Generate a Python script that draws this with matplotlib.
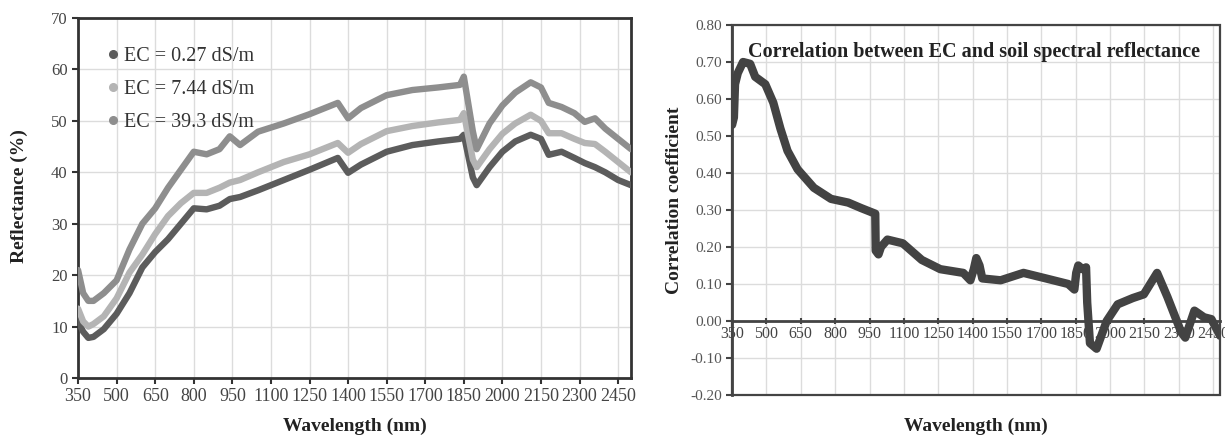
import numpy as np
import matplotlib.pyplot as plt
from matplotlib.lines import Line2D
from matplotlib.patches import Rectangle

plt.rcParams['font.family'] = ['Liberation Serif', 'DejaVu Serif']

# left panel: reflectance spectra for three EC levels
wl_left = [350, 370, 390, 410, 450, 500, 550, 600, 650, 700, 750, 800, 850, 900, 940, 980,
           1050, 1150, 1250, 1360, 1400, 1450, 1550, 1650, 1750, 1835, 1850, 1885, 1900,
           1950, 2000, 2050, 2110, 2150, 2180, 2230, 2280, 2320, 2360, 2400, 2450, 2500]
ec_027 = [11, 9, 7.8, 8, 9.5, 12.5, 16.5, 21.5, 24.5, 27, 30, 33, 32.8, 33.5, 34.8, 35.2,
          36.5, 38.5, 40.5, 42.8, 39.9, 41.5, 44, 45.3, 46, 46.5, 47.3, 39, 37.5,
          41, 44, 46, 47.3, 46.5, 43.4, 44, 42.8, 41.8, 41, 40, 38.5, 37.5]
ec_744 = [13.5, 11, 10, 10.5, 12, 15.5, 20.5, 24, 28, 31.5, 34, 36, 36, 37, 38, 38.5,
          40, 42, 43.5, 45.7, 43.8, 45.5, 48, 49, 49.7, 50.2, 51.5, 42.5, 41,
          44.5, 47.5, 49.5, 51.2, 50, 47.6, 47.6, 46.5, 45.7, 45.5, 44, 42, 40]
ec_393 = [21, 16.5, 15, 15, 16.5, 19, 25, 30, 33, 37, 40.5, 44, 43.5, 44.5, 47, 45.3,
          47.9, 49.5, 51.3, 53.5, 50.5, 52.5, 55, 56, 56.5, 57, 58.6, 48, 44.5,
          49.5, 53, 55.5, 57.5, 56.5, 53.5, 52.7, 51.5, 49.8, 50.5, 48.5, 46.5, 44.5]
series_names = ['EC = 0.27 dS/m', 'EC = 7.44 dS/m', 'EC = 39.3 dS/m']
series_colors = ['#5c5c5c', '#b4b4b4', '#8e8e8e']

# right panel: correlation coefficient
wl_corr = [350, 358, 363, 375, 398, 429, 451, 495, 530, 561, 592, 636, 707, 782, 857, 914,
           975, 977, 989, 1000, 1028, 1095, 1178, 1259, 1359, 1390, 1405, 1416, 1430, 1442,
           1522, 1622, 1720, 1817, 1844, 1852, 1861, 1880, 1895, 1900, 1912, 1941, 1985,
           2033, 2099, 2147, 2205, 2250, 2310, 2328, 2368, 2410, 2442, 2480]
corr = [0.53, 0.55, 0.64, 0.67, 0.70, 0.695, 0.66, 0.64, 0.59, 0.52, 0.46, 0.41, 0.36, 0.33, 0.32, 0.305,
        0.29, 0.19, 0.18, 0.20, 0.22, 0.21, 0.165, 0.14, 0.13, 0.11, 0.14, 0.17, 0.15, 0.115,
        0.11, 0.13, 0.115, 0.10, 0.085, 0.13, 0.15, 0.14, 0.145, 0.05, -0.06, -0.075, 0.0,
        0.045, 0.062, 0.072, 0.13, 0.065, -0.03, -0.045, 0.028, 0.01, 0.005, -0.04]

xticks = list(range(350, 2451, 150))

fig = plt.figure(figsize=(12.25, 4.44), dpi=100)

# ---- left
ax1 = fig.add_axes([0.0637, 0.1486, 0.4514, 0.8108])
for y, c in zip([ec_027, ec_744, ec_393], series_colors):
    ax1.plot(wl_left, y, color=c, lw=4.6, solid_joinstyle='round', solid_capstyle='round', zorder=3)
ax1.set_xlim(350, 2500)
ax1.set_ylim(0, 70)
ax1.set_xticks(xticks)
ax1.set_yticks(range(0, 71, 10))
ax1.grid(True, color='#dcdcdc', lw=1)
ax1.set_axisbelow(True)
ax1.tick_params(direction='out', length=4, width=1.5, color='#333333',
                labelcolor='#444444')
ax1.tick_params(axis='x', labelsize=13)
ax1.tick_params(axis='y', labelsize=12)
for s in ax1.spines.values():
    s.set_color('#333333')
    s.set_linewidth(2)
ax1.set_xlabel('Wavelength (nm)', fontsize=14, fontweight='bold', color='#222222')
ax1.xaxis.set_label_coords(0.5, -0.111)
ax1.set_ylabel('Reflectance (%)', fontsize=14, fontweight='bold', color='#222222')
ax1.yaxis.set_label_coords(-0.09, 0.505)
handles = [Line2D([], [], marker='o', ls='none', color=c, markersize=5.5) for c in series_colors]
ax1.legend(handles, series_names, loc='upper left', bbox_to_anchor=(0.012, 0.97), frameon=False,
           fontsize=14.5, handletextpad=0.05, labelspacing=0.7, handlelength=1,
           labelcolor='#333333')

# ---- right
ax2 = fig.add_axes([0.5976, 0.1104, 0.3984, 0.8333])
ax2.plot(wl_corr, corr, color='#434343', lw=6, solid_joinstyle='round', solid_capstyle='round', zorder=3)
ax2.set_xlim(350, 2480)
ax2.set_ylim(-0.2, 0.8)
ax2.set_xticks(xticks)
ax2.set_yticks(np.arange(-0.2, 0.81, 0.1))
ax2.set_yticklabels(['%.2f' % v for v in np.arange(-0.2, 0.81, 0.1)])
ax2.grid(True, color='#dcdcdc', lw=1)
ax2.set_axisbelow(True)
ax2.spines['bottom'].set_position(('data', 0))
ax2.spines['top'].set_visible(False)
ax2.spines['right'].set_visible(False)
for s in ax2.spines.values():
    s.set_color('#444444')
    s.set_linewidth(2)
ax2.add_patch(Rectangle((0, 0), 1, 1, transform=ax2.transAxes, fill=False,
                        ec='#444444', lw=1.6, zorder=4, clip_on=False))
ax2.tick_params(axis='x', direction='inout', length=5, width=1.5, color='#444444',
                labelsize=11.5, labelcolor='#444444', pad=1)
ax2.tick_params(axis='y', direction='out', length=4, width=1.5, color='#444444',
                labelsize=11, labelcolor='#555555')
ax2.set_xlabel('Wavelength (nm)', fontsize=14, fontweight='bold', color='#222222')
ax2.xaxis.set_label_coords(0.5, -0.062)
ax2.set_ylabel('Correlation coefficient', fontsize=14, fontweight='bold', color='#222222')
ax2.yaxis.set_label_coords(-0.1, 0.527)
ax2.text(0.496, 0.927, 'Correlation between EC and soil spectral reflectance',
         transform=ax2.transAxes, ha='center', va='center', fontsize=14.5,
         fontweight='bold', color='#222222', zorder=5)

fig.savefig('out.png', dpi=100)
